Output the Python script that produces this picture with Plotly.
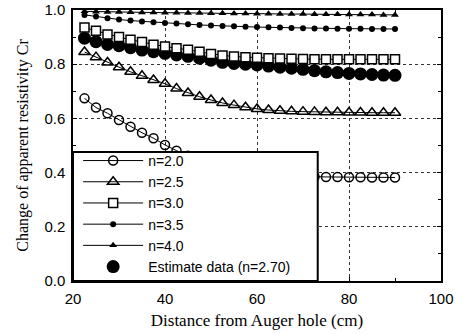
import plotly.graph_objects as go

distance = [22.5, 25, 27.5, 30, 32.5, 35, 37.5, 40, 42.5, 45, 47.5, 50, 52.5, 55,
            57.5, 60, 62.5, 65, 67.5, 70, 72.5, 75, 77.5, 80, 82.5, 85, 87.5, 90]

cr_n20 = [0.674, 0.640, 0.619, 0.594, 0.569, 0.547, 0.527, 0.502, 0.481, 0.462,
          0.446, 0.432, 0.420, 0.410, 0.402, 0.396, 0.392, 0.389, 0.387, 0.386,
          0.385, 0.384, 0.384, 0.383, 0.383, 0.382, 0.382, 0.382]
cr_n25 = [0.845, 0.826, 0.806, 0.789, 0.772, 0.757, 0.742, 0.728, 0.710, 0.694,
          0.680, 0.668, 0.657, 0.649, 0.641, 0.635, 0.631, 0.628, 0.626, 0.625,
          0.624, 0.623, 0.623, 0.622, 0.622, 0.621, 0.621, 0.621]
cr_n30 = [0.935, 0.923, 0.910, 0.900, 0.890, 0.882, 0.872, 0.865, 0.859, 0.853,
          0.846, 0.838, 0.832, 0.828, 0.826, 0.824, 0.822, 0.821, 0.820, 0.819,
          0.818, 0.818, 0.818, 0.818, 0.818, 0.818, 0.818, 0.818]
cr_n35 = [0.982, 0.976, 0.970, 0.965, 0.961, 0.958, 0.955, 0.952, 0.950, 0.947,
          0.945, 0.943, 0.941, 0.940, 0.938, 0.937, 0.936, 0.935, 0.934, 0.933,
          0.932, 0.932, 0.931, 0.931, 0.931, 0.930, 0.930, 0.930]
cr_n40 = [0.995, 0.994, 0.993, 0.993, 0.992, 0.991, 0.991, 0.990, 0.990, 0.989,
          0.989, 0.988, 0.988, 0.987, 0.987, 0.986, 0.986, 0.985, 0.985, 0.985,
          0.984, 0.984, 0.984, 0.983, 0.983, 0.983, 0.982, 0.982]
cr_est = [0.896, 0.883, 0.873, 0.868, 0.861, 0.852, 0.846, 0.840, 0.834, 0.829,
          0.822, 0.815, 0.807, 0.803, 0.800, 0.797, 0.793, 0.789, 0.785, 0.781,
          0.776, 0.772, 0.769, 0.766, 0.764, 0.762, 0.760, 0.759]

x_ticks = [20, 40, 60, 80, 100]
y_ticks = [0.0, 0.2, 0.4, 0.6, 0.8, 1.0]
y_tick_text = ["0.0", "0.2", "0.4", "0.6", "0.8", "1.0"]

fig = go.Figure()

line = dict(color="black", width=1)

fig.add_trace(go.Scatter(x=distance, y=cr_est, mode="markers", name="Estimate data (n=2.70)",
                         legendrank=6,
                         marker=dict(symbol="circle", size=13, color="black")))
fig.add_trace(go.Scatter(x=distance, y=cr_n20, mode="lines+markers", name="n=2.0", legendrank=1,
                         line=line,
                         marker=dict(symbol="circle-open", size=9, color="black",
                                     line=dict(width=1.5, color="black"))))
fig.add_trace(go.Scatter(x=distance, y=cr_n25, mode="lines+markers", name="n=2.5", legendrank=2,
                         line=line,
                         marker=dict(symbol="triangle-up-open", size=10, color="black",
                                     line=dict(width=1.5, color="black"))))
fig.add_trace(go.Scatter(x=distance, y=cr_n30, mode="lines+markers", name="n=3.0", legendrank=3,
                         line=line,
                         marker=dict(symbol="square", size=9, color="white",
                                     line=dict(width=1.5, color="black"))))
fig.add_trace(go.Scatter(x=distance, y=cr_n35, mode="lines+markers", name="n=3.5", legendrank=4,
                         line=line,
                         marker=dict(symbol="circle", size=6, color="black")))
fig.add_trace(go.Scatter(x=distance, y=cr_n40, mode="lines+markers", name="n=4.0", legendrank=5,
                         line=line,
                         marker=dict(symbol="triangle-up", size=7, color="black")))

# legend box (white, covers the data beneath)
fig.add_shape(type="rect", xref="paper", yref="paper", x0=0, x1=0.665, y0=0, y1=0.476,
              fillcolor="white", line=dict(color="black", width=2), layer="above")

axis_common = dict(
    showline=True, linecolor="black", linewidth=1.5, mirror="allticks",
    ticks="inside", ticklen=4, tickcolor="black",
    showgrid=True, gridcolor="#333", griddash="dot", gridwidth=1,
    zeroline=False, automargin=False,
    tickfont=dict(family="Liberation Sans, Arial", size=15, color="black"),
)

fig.update_xaxes(range=[20, 100], tickvals=x_ticks,
                 ticklabelstandoff=3,
                 minor=dict(dtick=10, ticks="inside", ticklen=3, tickcolor="black", showgrid=False),
                 title=dict(text="Distance from Auger hole (cm)",
                            font=dict(family="Liberation Serif, Times New Roman", size=17, color="black"),
                            standoff=8),
                 **axis_common)
fig.update_yaxes(range=[0, 1.0], tickvals=y_ticks, ticktext=y_tick_text,
                 ticklabelstandoff=3,
                 minor=dict(dtick=0.1, ticks="inside", ticklen=3, tickcolor="black", showgrid=False),
                 title=dict(text="Change of apparent resistivity Cr",
                            font=dict(family="Liberation Serif, Times New Roman", size=16, color="black"),
                            standoff=12),
                 **axis_common)

fig.update_layout(
    width=471, height=334,
    margin=dict(l=73, r=30, t=10, b=53),
    paper_bgcolor="white", plot_bgcolor="white",
    showlegend=True,
    legend=dict(x=0.014, y=0.502, xanchor="left", yanchor="top",
                bgcolor="rgba(0,0,0,0)", borderwidth=0,
                itemwidth=60, tracegroupgap=0,
                font=dict(family="Liberation Sans, Arial", size=14, color="black")),
)

fig.write_html("out.html", config={"displayModeBar": False},
               post_script="document.body.style.margin='0';")
